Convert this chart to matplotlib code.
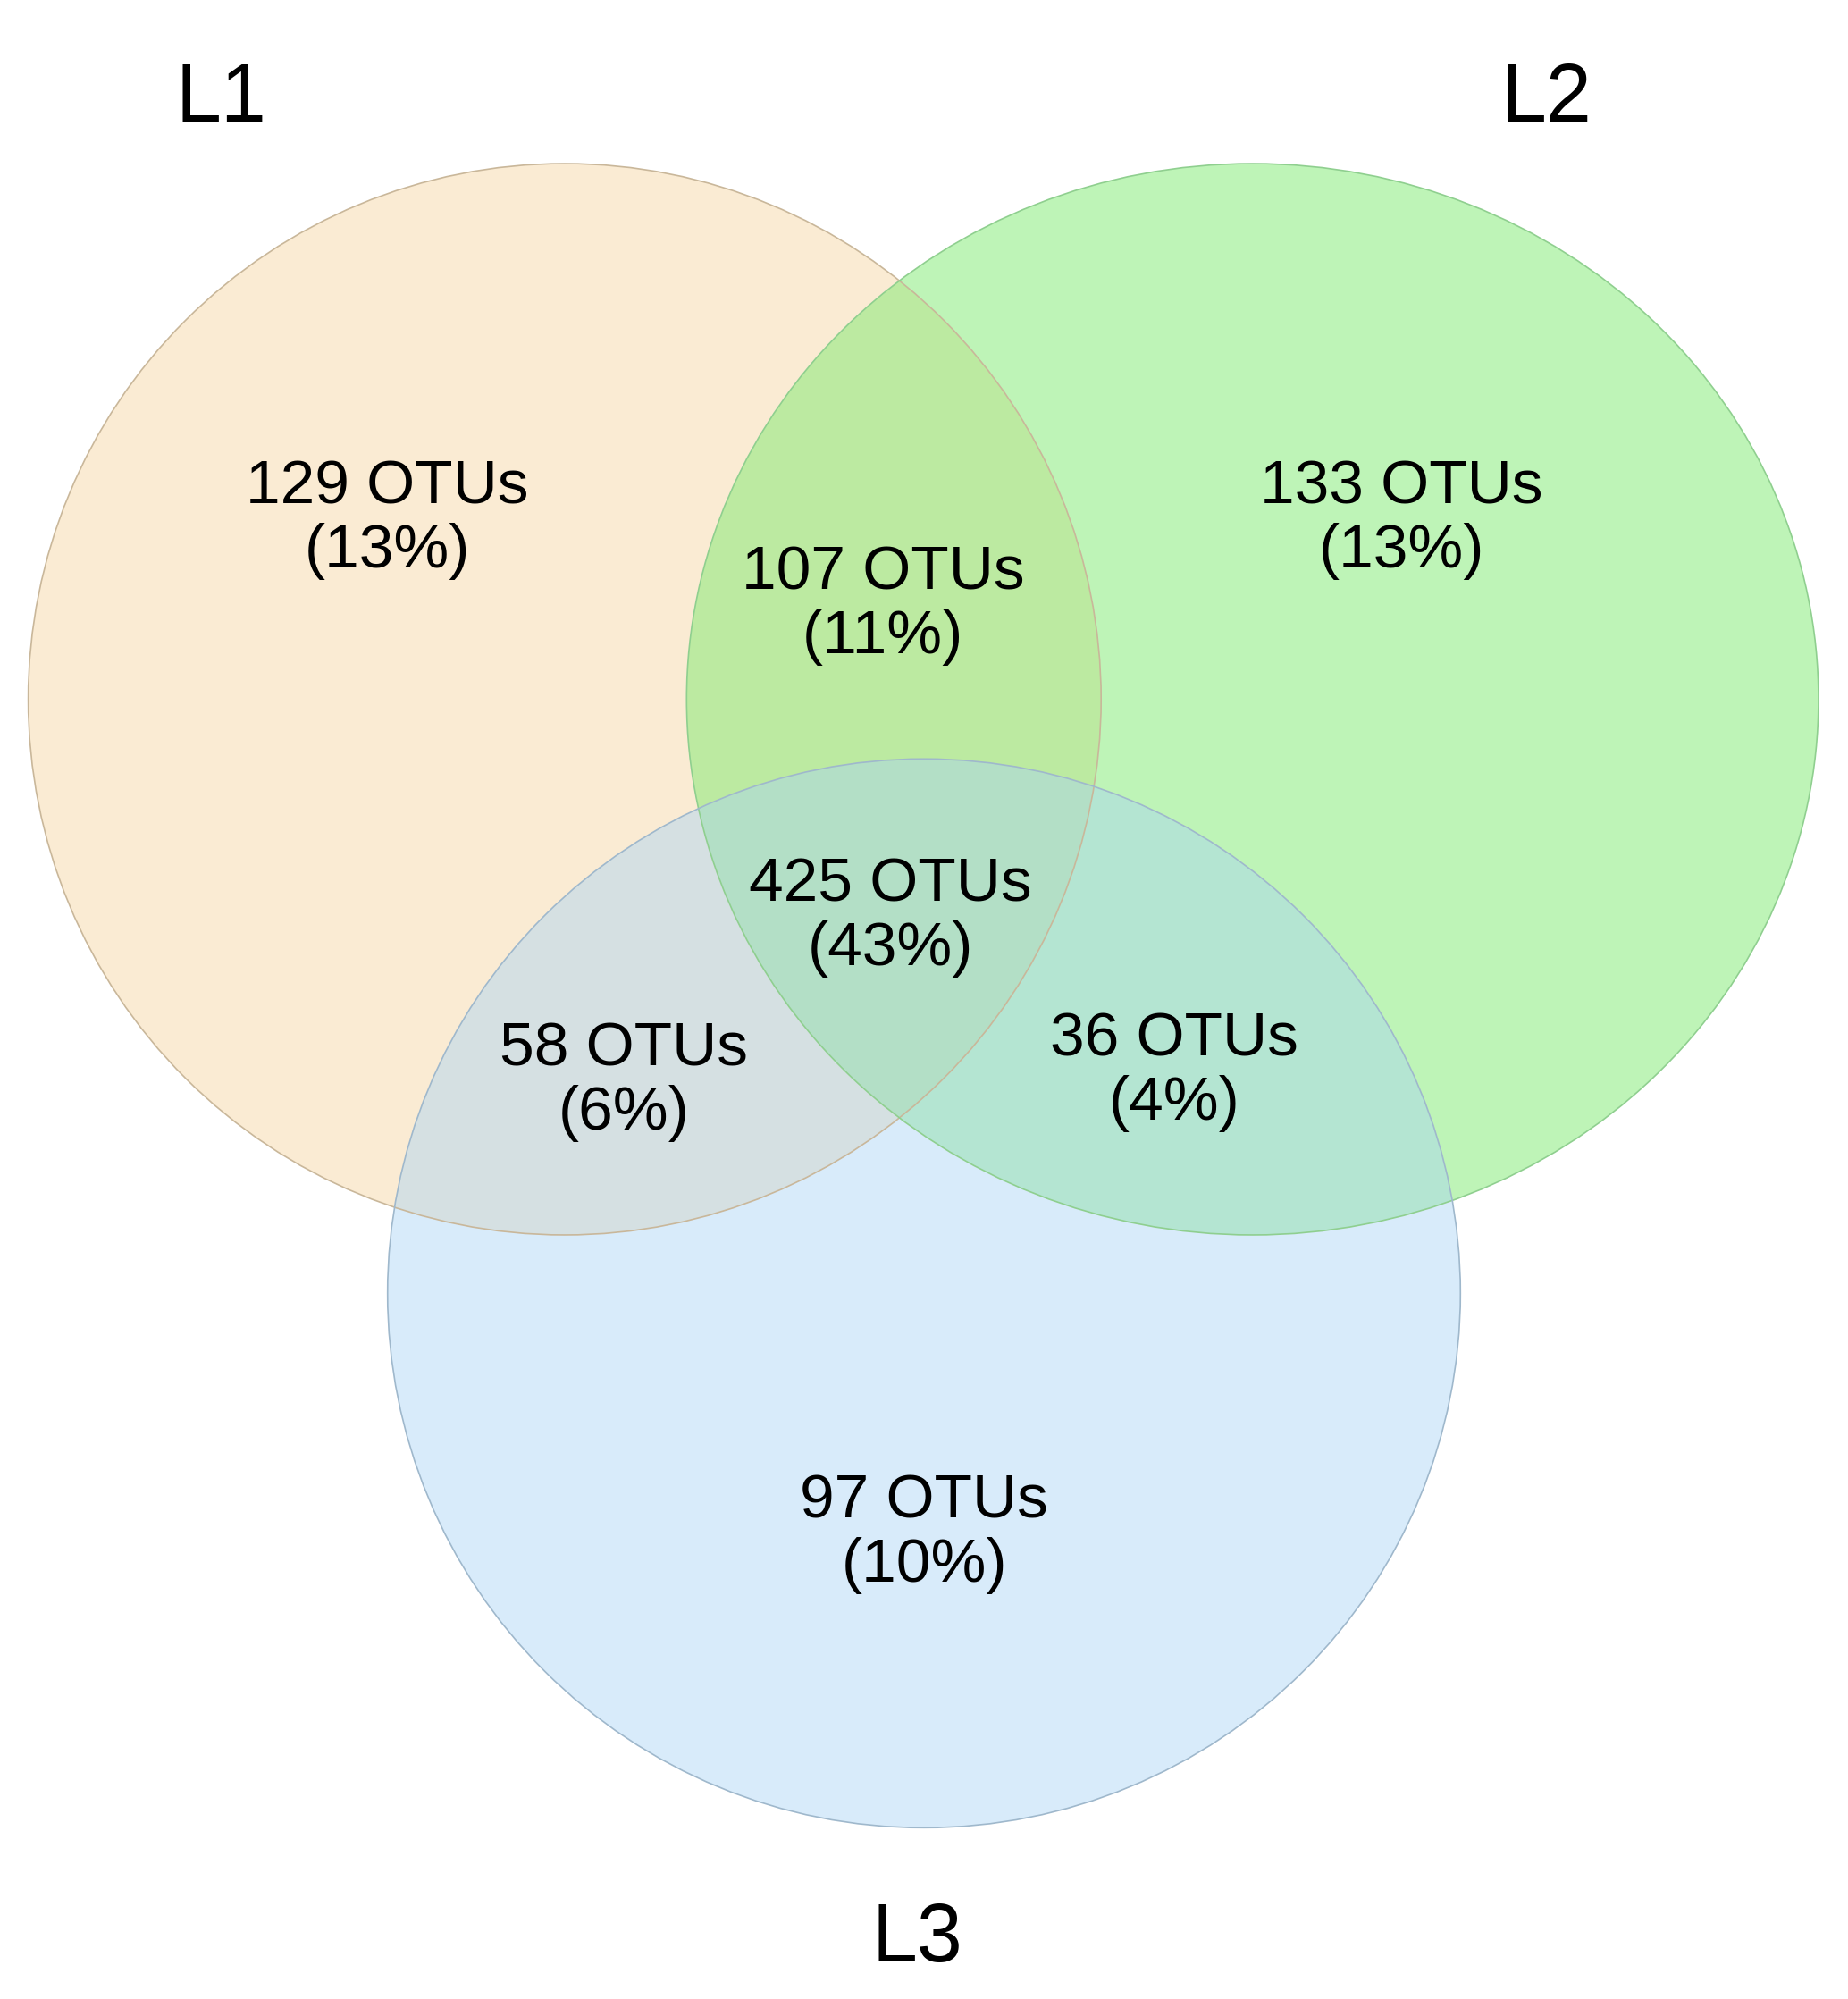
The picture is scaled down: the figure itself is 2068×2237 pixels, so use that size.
import matplotlib
matplotlib.use('Agg')
import matplotlib.pyplot as plt
from matplotlib.patches import Ellipse

plt.rcParams['font.family'] = ['Liberation Sans', 'DejaVu Sans']

sets = ['L1', 'L2', 'L3']
counts = [129, 133, 97, 107, 58, 36, 425]
percents = [13, 13, 10, 11, 6, 4, 43]

W, H = 1440, 1558
fig = plt.figure(figsize=(20.68, 22.37), dpi=100)
ax = fig.add_axes([0, 0, 1, 1])
ax.set_xlim(0, W)
ax.set_ylim(H, 0)
ax.axis('off')

# circle geometry (in picture pixels of the scaled layout)
circles = [((440, 545), 836, 835, '#f7d9a8', '#c9b79a', 0.5),
           ((976, 545), 882, 835, '#7fea70', '#8fcf8f', 0.5),
           ((720, 1008), 836, 833, '#a9d3f5', '#9fb8cc', 0.45)]
for (c, w, h, fc, ec, a) in circles:
    ax.add_patch(Ellipse(c, w, h, facecolor=fc, alpha=a, edgecolor='none'))
for (c, w, h, fc, ec, a) in circles:
    ax.add_patch(Ellipse(c, w, h, facecolor='none', edgecolor=ec, lw=1.2))

label_pos = [(172, 78), (1205, 78), (715, 1512)]
for name, (x, y) in zip(sets, label_pos):
    ax.text(x, y, name, fontsize=66, ha='center', va='center')

region_pos = [(302, 405), (1092, 405), (720, 1195), (688, 472),
              (486, 843), (915, 835), (694, 715)]
for n, p, (x, y) in zip(counts, percents, region_pos):
    ax.text(x, y, f'{n} OTUs\n({p}%)', fontsize=50, ha='center', va='center',
            linespacing=1.15)

plt.savefig('out.png')
